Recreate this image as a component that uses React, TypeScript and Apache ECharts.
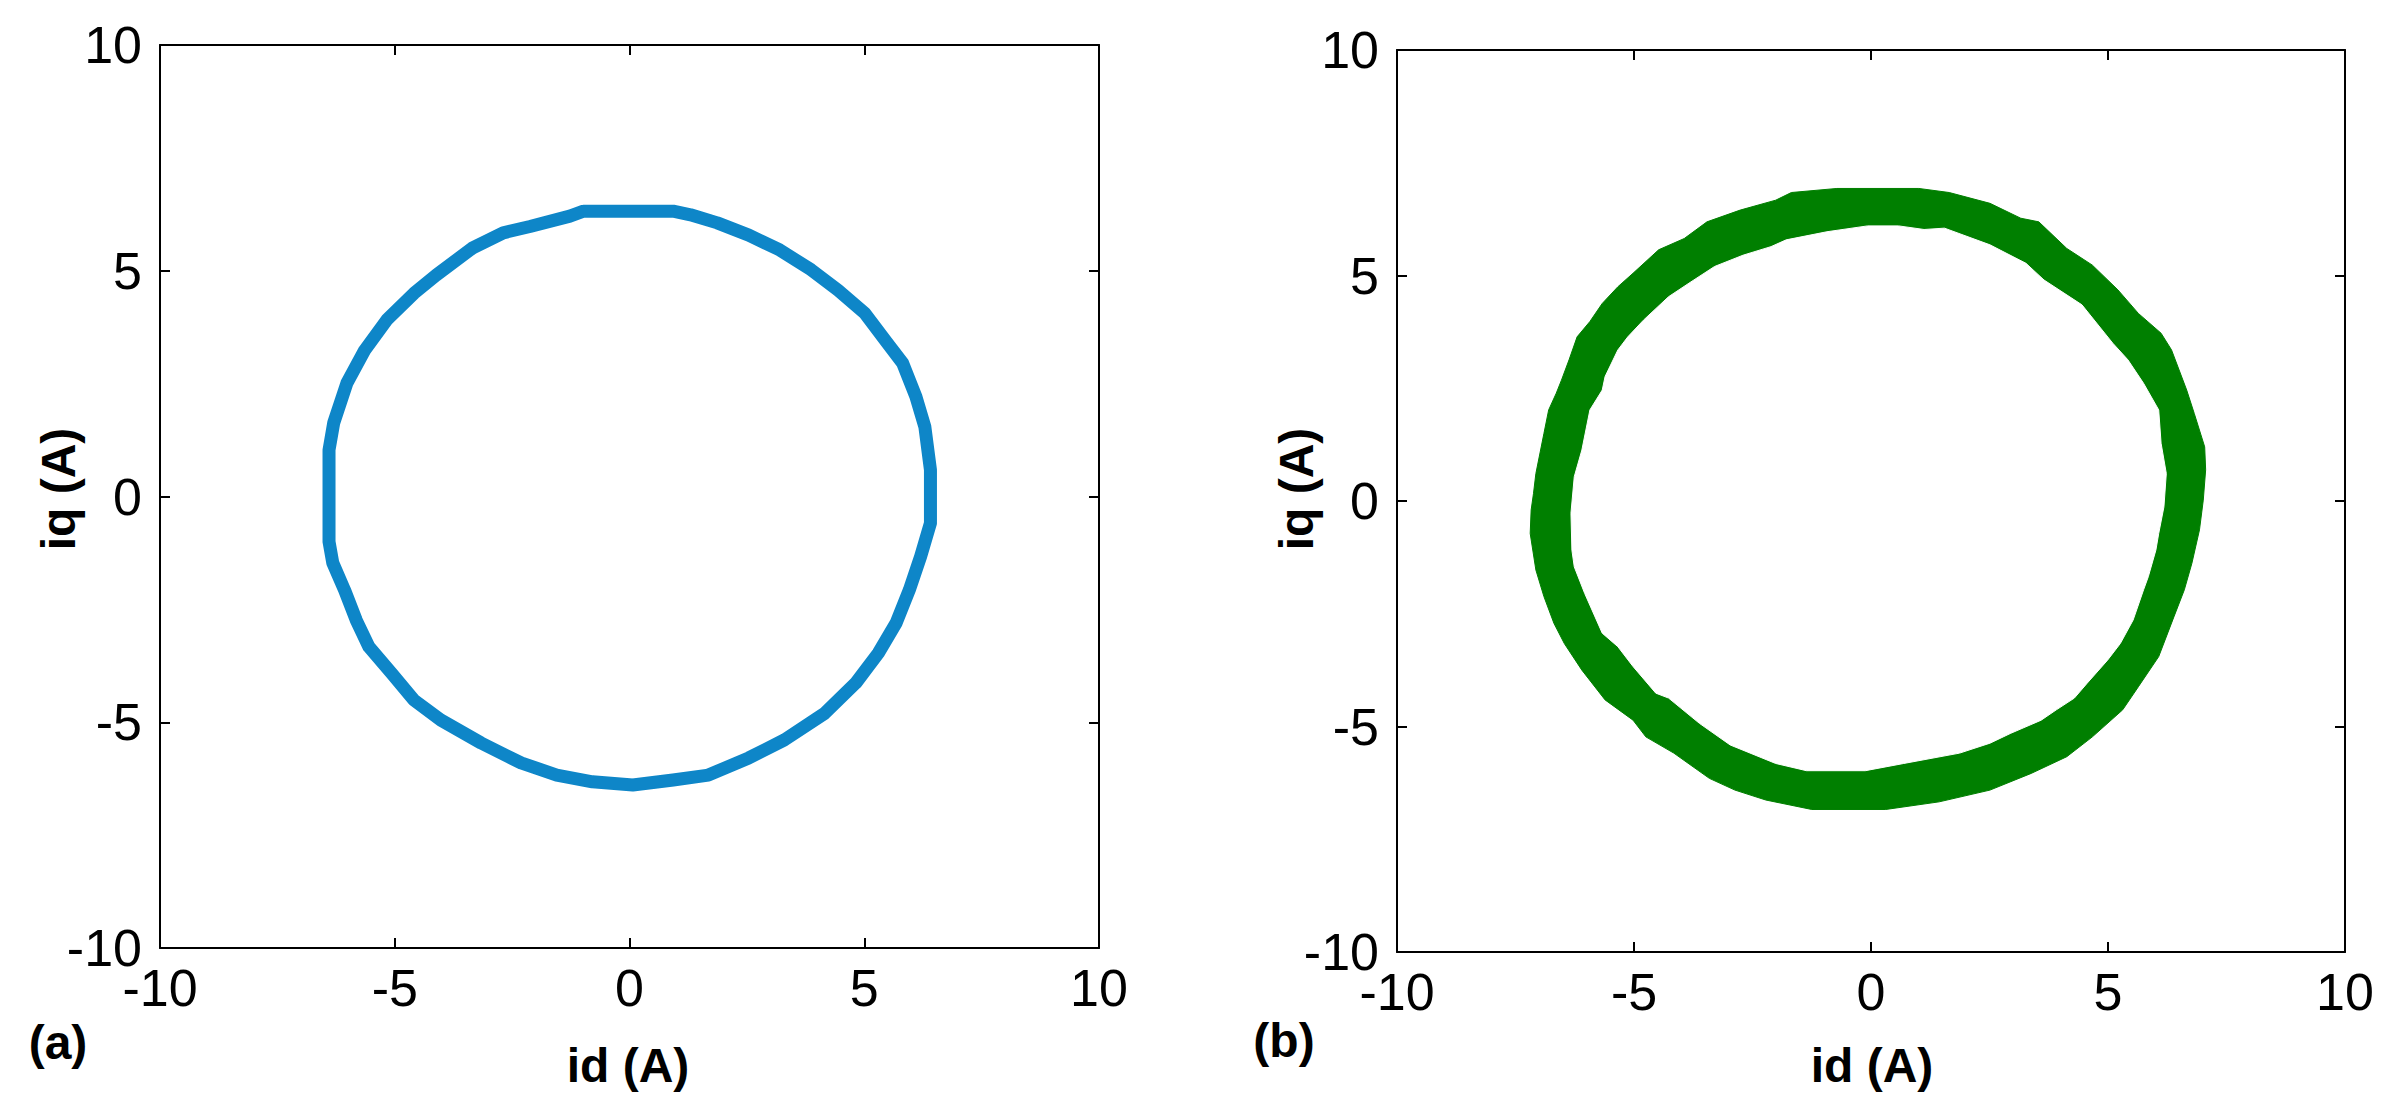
import React, { useEffect, useRef } from "react";
import * as echarts from "echarts";

// ---- axis settings ----
const AXIS_MIN = -10;
const AXIS_MAX = 10;
const TICK_STEP = 5;

// ---- (a) blue trajectory, id / iq (A) ----
const aId = [-0.98, 0.93, 1.3, 1.87, 2.54, 3.2, 3.87, 4.44, 5.01, 5.44, 5.82, 6.1, 6.29, 6.41, 6.41, 6.2, 5.96, 5.68, 5.3, 4.82, 4.16, 3.3, 2.54, 1.68, 0.93, 0.07, -0.79, -1.55, -2.31, -3.16, -4.02, -4.59, -5.07, -5.55, -5.82, -6.07, -6.32, -6.4, -6.4, -6.3, -6.02, -5.64, -5.17, -4.59, -4.12, -3.35, -2.69, -2.12, -1.27, -0.98];
const aIq = [6.32, 6.32, 6.24, 6.06, 5.79, 5.46, 5.02, 4.57, 4.06, 3.47, 2.95, 2.21, 1.55, 0.59, -0.59, -1.33, -2.07, -2.8, -3.47, -4.13, -4.8, -5.39, -5.79, -6.17, -6.28, -6.39, -6.32, -6.17, -5.9, -5.46, -4.95, -4.51, -3.91, -3.33, -2.74, -2.07, -1.47, -1.0, 1.03, 1.63, 2.51, 3.24, 3.91, 4.5, 4.9, 5.5, 5.84, 5.98, 6.21, 6.32];

// ---- (b) green trajectory band: outer edge ----
const bOuterId = [-7.17, -7.12, -7.07, -6.9, -6.8, -6.64, -6.53, -6.37, -6.2, -5.93, -5.67, -5.34, -5.02, -4.48, -3.94, -3.46, -2.76, -2.01, -1.68, -0.72, 1.01, 1.65, 2.51, 3.16, 3.54, 4.13, 4.67, 5.21, 5.64, 6.12, 6.34, 6.66, 6.82, 7.04, 7.06, 7.01, 6.93, 6.77, 6.61, 6.39, 6.07, 5.64, 5.31, 4.67, 4.13, 3.38, 2.51, 1.44, 0.31, -1.25, -2.22, -2.87, -3.41, -4.16, -4.75, -5.02, -5.61, -6.1, -6.47, -6.69, -6.9, -7.07, -7.19];
const bOuterIq = [-0.2, 0.17, 0.61, 1.5, 2.02, 2.39, 2.68, 3.13, 3.64, 3.98, 4.38, 4.75, 5.05, 5.57, 5.82, 6.19, 6.45, 6.67, 6.84, 6.93, 6.93, 6.84, 6.6, 6.27, 6.19, 5.6, 5.23, 4.68, 4.16, 3.72, 3.35, 2.46, 1.94, 1.2, 0.69, 0.02, -0.64, -1.38, -1.97, -2.57, -3.45, -4.12, -4.63, -5.23, -5.67, -6.04, -6.41, -6.67, -6.84, -6.84, -6.63, -6.41, -6.15, -5.59, -5.23, -4.86, -4.41, -3.75, -3.16, -2.71, -2.12, -1.53, -0.72];

// ---- (b) green trajectory band: inner edge ----
const bInnerId = [-6.33, -6.26, -6.1, -5.93, -5.67, -5.61, -5.34, -5.13, -4.8, -4.27, -3.84, -3.3, -2.7, -2.11, -1.79, -0.93, -0.07, 0.58, 1.12, 1.55, 2.51, 3.27, 3.65, 4.45, 5.1, 5.42, 5.75, 6.07, 6.12, 6.23, 6.18, 6.07, 6.01, 5.85, 5.75, 5.53, 5.26, 4.99, 4.56, 4.29, 3.91, 3.59, 2.95, 2.51, 1.87, 0.69, -0.12, -1.36, -2.01, -2.97, -3.62, -4.27, -4.54, -5.02, -5.34, -5.67, -6.04, -6.26, -6.31];
const bInnerIq = [-0.27, 0.54, 1.13, 2.02, 2.46, 2.76, 3.35, 3.64, 4.01, 4.53, 4.83, 5.2, 5.45, 5.64, 5.79, 5.97, 6.1, 6.1, 6.02, 6.05, 5.68, 5.27, 4.9, 4.35, 3.5, 3.13, 2.61, 2.02, 1.28, 0.61, -0.13, -0.72, -1.09, -1.68, -1.97, -2.64, -3.16, -3.53, -4.04, -4.37, -4.63, -4.86, -5.15, -5.37, -5.59, -5.82, -5.98, -5.98, -5.82, -5.41, -4.93, -4.37, -4.26, -3.67, -3.23, -2.93, -2.05, -1.46, -1.09];

const BLUE = "#0E86C8";
const GREEN = "#007F00";
const FONT = "Liberation Sans, Arial, Helvetica, sans-serif";

function axisPair(gridIndex: number, dim: "x" | "y") {
  const common = {
    gridIndex,
    type: "value",
    min: AXIS_MIN,
    max: AXIS_MAX,
    interval: TICK_STEP,
    splitLine: { show: false },
    axisLine: { show: true, onZero: false, lineStyle: { color: "#000", width: 2 } },
    axisTick: { show: true, inside: true, length: 10, lineStyle: { color: "#000", width: 2 } },
  };
  const main = {
    ...common,
    position: dim === "x" ? "bottom" : "left",
    axisLabel: {
      show: true,
      color: "#000",
      fontSize: 52,
      fontFamily: FONT,
      margin: dim === "x" ? 14 : 18,
    },
  };
  const other = {
    ...common,
    position: dim === "x" ? "top" : "right",
    axisLabel: { show: false },
  };
  return [main, other];
}

function polygonSeries(xs: number[], ys: number[], color: string, xi: number, yi: number) {
  return {
    type: "custom",
    xAxisIndex: xi,
    yAxisIndex: yi,
    silent: true,
    clip: false,
    data: [[0, 0]],
    renderItem: (_params: any, api: any) => ({
      type: "polygon",
      shape: { points: xs.map((x, i) => api.coord([x, ys[i]])) },
      style: { fill: color, stroke: color, lineWidth: 1 },
    }),
  };
}

function textEl(text: string, x: number, y: number, rotate = false) {
  return {
    type: "text",
    x,
    y,
    rotation: rotate ? Math.PI / 2 : 0,
    style: {
      text,
      fontSize: 48,
      fontWeight: "bold",
      fontFamily: FONT,
      fill: "#000",
      align: "center",
      verticalAlign: "middle",
    },
  };
}

export default function App() {
  const ref = useRef<HTMLDivElement>(null);
  useEffect(() => {
    if (!ref.current) return;
    const chart = echarts.init(ref.current, undefined, { renderer: "svg" });
    const option = {
      animation: false,
      backgroundColor: "#fff",
      grid: [
        { left: 160, top: 45, width: 939, height: 903 },
        { left: 1397, top: 50, width: 948, height: 902 },
      ],
      xAxis: [...axisPair(0, "x"), ...axisPair(1, "x")],
      yAxis: [...axisPair(0, "y"), ...axisPair(1, "y")],
      series: [
        {
          type: "line",
          xAxisIndex: 0,
          yAxisIndex: 0,
          data: aId.map((x, i) => [x, aIq[i]]),
          showSymbol: false,
          symbol: "none",
          lineStyle: { color: BLUE, width: 13, join: "round", cap: "round" },
          silent: true,
        },
        polygonSeries(bOuterId, bOuterIq, GREEN, 2, 2),
        polygonSeries(bInnerId, bInnerIq, "#fff", 2, 2),
      ],
      graphic: [
        textEl("iq (A)", 58, 489, true),
        textEl("id (A)", 628, 1065),
        textEl("(a)", 58, 1042),
        textEl("iq (A)", 1296, 489, true),
        textEl("id (A)", 1872, 1065),
        textEl("(b)", 1284, 1040),
      ],
    };
    chart.setOption(option as any);
    return () => chart.dispose();
  }, []);
  return (
    <div
      ref={ref}
      style={{ position: "fixed", left: 0, top: 0, width: 2387, height: 1115, background: "#fff" }}
    />
  );
}
